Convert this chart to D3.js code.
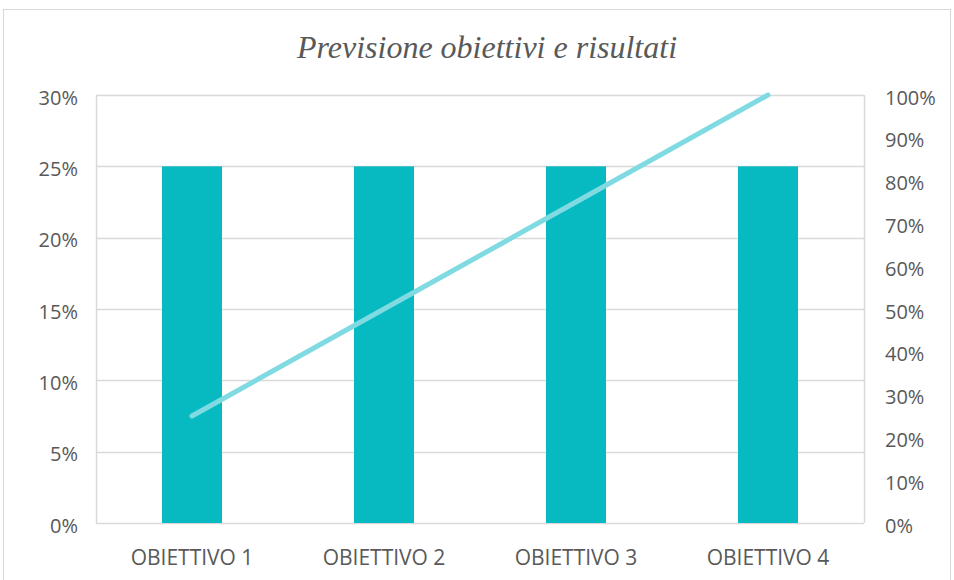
<!DOCTYPE html>
<html><head><meta charset="utf-8">
<script src="https://cdn.jsdelivr.net/npm/d3@7/dist/d3.min.js"></script>
<style>body{margin:0;background:#fff;} text{font-family:"Open Sans",sans-serif;}</style>
</head><body><svg id="c" width="954" height="580"></svg>
<script>
const categories = ["OBIETTIVO 1","OBIETTIVO 2","OBIETTIVO 3","OBIETTIVO 4"];
const barValues = [0.25,0.25,0.25,0.25];
const lineValues = [0.25,0.50,0.75,1.00];
const leftTicks = [0,0.05,0.10,0.15,0.20,0.25,0.30];
const rightTicks = [0,0.1,0.2,0.3,0.4,0.5,0.6,0.7,0.8,0.9,1.0];
const title = "Previsione obiettivi e risultati";

const svg = d3.select("#c");
const m = {l:96, r:864, t:95, b:523};
svg.append("rect").attr("x",3.5).attr("y",9.5).attr("width",947).attr("height",575)
  .attr("fill","#fff").attr("stroke","#d9d9d9");

const x = d3.scaleBand().domain(categories).range([m.l,m.r]).paddingInner(0).paddingOuter(0);
const yL = d3.scaleLinear().domain([0,0.30]).range([m.b,m.t]);
const yR = d3.scaleLinear().domain([0,1.0]).range([m.b,m.t]);
const pct = d3.format(".0%");

// gridlines
svg.append("g").selectAll("line").data(leftTicks).join("line")
  .attr("x1",m.l).attr("x2",m.r).attr("y1",d=>Math.round(yL(d))+0.5).attr("y2",d=>Math.round(yL(d))+0.5)
  .attr("stroke","#d9d9d9").attr("stroke-width",1.5);
[m.l,m.r].forEach(xx=>svg.append("line").attr("x1",xx+0.5).attr("x2",xx+0.5).attr("y1",m.t).attr("y2",m.b)
  .attr("stroke","#d9d9d9").attr("stroke-width",1.5));

// bars
const bw = 60;
svg.append("g").selectAll("rect").data(categories).join("rect")
  .attr("x",(d)=>x(d)+x.bandwidth()/2-bw/2).attr("width",bw)
  .attr("y",(d,i)=>yL(barValues[i])).attr("height",(d,i)=>yL(0)-yL(barValues[i]))
  .attr("fill","#07b9c1");

// line
const line = d3.line().x((d,i)=>x(categories[i])+x.bandwidth()/2).y(d=>yR(d));
svg.append("path").datum(lineValues).attr("d",line).attr("fill","none")
  .attr("stroke","#7fdbe1").attr("stroke-width",5).attr("stroke-linecap","round").attr("stroke-linejoin","round");

// axes
const axL = d3.axisLeft(yL).tickValues(leftTicks).tickFormat(pct).tickSize(0).tickPadding(18);
const gL = svg.append("g").attr("transform",`translate(${m.l},0)`).call(axL);
const axR = d3.axisRight(yR).tickValues(rightTicks).tickFormat(pct).tickSize(0).tickPadding(21);
const gR = svg.append("g").attr("transform",`translate(${m.r},0)`).call(axR);
const axB = d3.axisBottom(x).tickSize(0).tickPadding(0);
const gB = svg.append("g").attr("transform",`translate(0,${m.b})`).call(axB);
[gL,gR,gB].forEach(g=>{g.select(".domain").remove();
  g.selectAll("text").attr("fill","#595959").style("font-family","'Open Sans',sans-serif");});
gL.selectAll("text").style("font-size","20px").attr("dy","9px");
gR.selectAll("text").style("font-size","20px").attr("dy","9px");
gB.selectAll("text").style("font-size","21px").attr("y",42).attr("dy",0);

svg.append("text").attr("x",487).attr("y",58).attr("text-anchor","middle")
  .style("font-family","'Liberation Serif',serif").style("font-style","italic").style("font-size","32px")
  .attr("fill","#595959").text(title);
</script></body></html>
